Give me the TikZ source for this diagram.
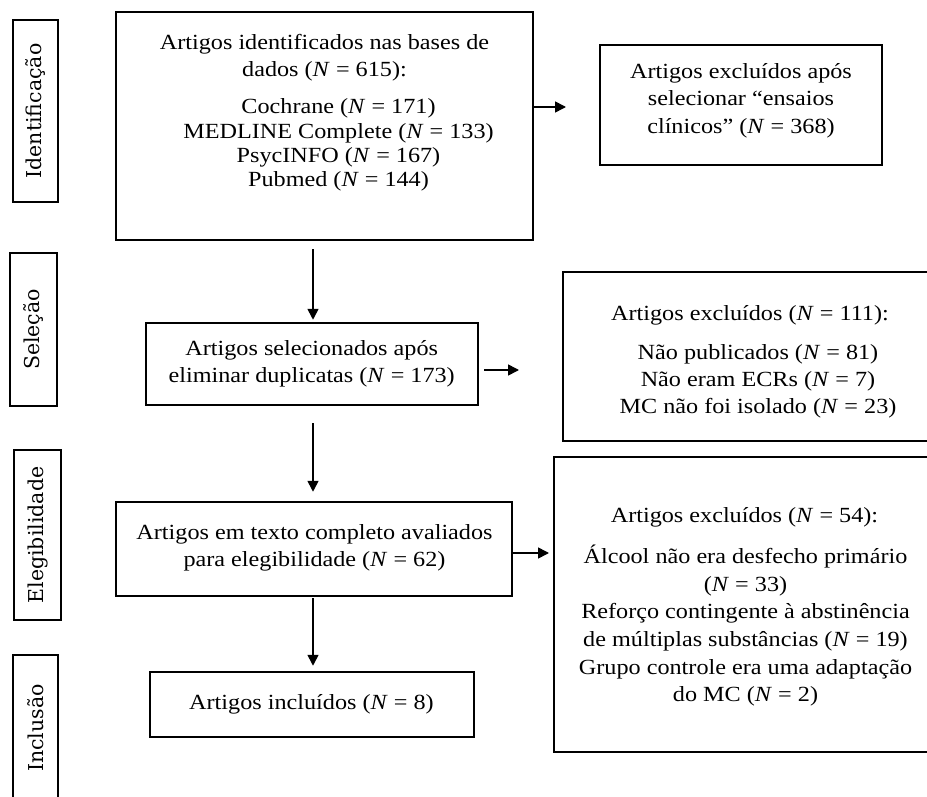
\documentclass[tikz,border=0pt]{standalone}
\usepackage{fontspec}
\setmainfont[FakeStretch=1.12]{Liberation Serif}
\newfontfamily\lblfont{DejaVu Serif}
\usetikzlibrary{arrows.meta}
\newcommand\tlines[2]{\fontsize{21.6}{#1}\selectfont\begin{tabular}[t]{@{}c@{}}#2\end{tabular}}
\newcommand\NN{\textit{N}}
\begin{document}
\begin{tikzpicture}[x=1pt,y=-1pt,
  box/.style={draw, line width=2.5pt, inner sep=0pt},
  lbl/.style={draw, line width=2.5pt, inner sep=0pt, rotate=90, font=\lblfont\fontsize{20.5}{24}\selectfont},
  txt/.style={anchor=base, inner sep=0pt},
  arr/.style={-{Triangle[length=11pt,width=11pt]}, line width=1.6pt}]
\useasboundingbox (0,0) rectangle (927,797);
\clip (0,0) rectangle (927,797);
\fill[white] (0,0) rectangle (927,797);

% stage labels
\node[lbl, minimum width=182pt, minimum height=45pt] (s1) at (35.5,111) {Identificação};
\node[lbl, minimum width=153pt, minimum height=47pt] (s2) at (33.5,329.5) {Seleção};
\node[lbl, minimum width=170pt, minimum height=47pt] (s3) at (37.5,535) {Elegibilidade};
\node[lbl, minimum width=146pt, minimum height=45pt] (s4) at (35.5,728) {Inclusão};

% main boxes
\node[box, minimum width=417pt, minimum height=228pt] (b1) at (324.5,126) {};
\node[box, minimum width=332pt, minimum height=82pt] (b2) at (312,364) {};
\node[box, minimum width=396pt, minimum height=94pt] (b3) at (314,549) {};
\node[box, minimum width=324pt, minimum height=65pt] (b4) at (312,704.5) {};

% exclusion boxes
\node[box, minimum width=282pt, minimum height=120pt] (e1) at (741,105) {};
\node[box, minimum width=382pt, minimum height=169pt] (e2) at (754,356.5) {};
\node[box, minimum width=391pt, minimum height=295pt] (e3) at (749.5,604.5) {};

% texts
\node[txt] (t1a) at (324.5,49.3) {\tlines{27.4}{Artigos identificados nas bases de\\ dados (\NN{} = 615):}};
\node[txt] (t1b) at (338.5,114) {\tlines{24.2}{Cochrane (\NN{} = 171)\\ MEDLINE Complete (\NN{} = 133)\\ PsycINFO (\NN{} = 167)\\ Pubmed (\NN{} = 144)}};
\node[txt] (te1) at (741,78.5) {\tlines{27.5}{Artigos excluídos após\\ selecionar “ensaios\\ clínicos” (\NN{} = 368)}};
\node[txt] (t2) at (311.7,355) {\tlines{27.7}{Artigos selecionados após\\ eliminar duplicatas (\NN{} = 173)}};
\node[txt] (te2a) at (750,320) {\tlines{27}{Artigos excluídos (\NN{} = 111):}};
\node[txt] (te2b) at (758,359.3) {\tlines{27}{Não publicados (\NN{} = 81)\\ Não eram ECRs (\NN{} = 7)\\ MC não foi isolado (\NN{} = 23)}};
\node[txt] (t3) at (314.5,539.3) {\tlines{27.4}{Artigos em texto completo avaliados\\ para elegibilidade (\NN{} = 62)}};
\node[txt] (t4) at (311.5,709.3) {\tlines{27}{Artigos incluídos (\NN{} = 8)}};
\node[txt] (te3a) at (744.5,522.7) {\tlines{27}{Artigos excluídos (\NN{} = 54):}};
\node[txt] (te3b) at (745.5,563.3) {\tlines{27.7}{Álcool não era desfecho primário\\ (\NN{} = 33)\\ Reforço contingente à abstinência\\ de múltiplas substâncias (\NN{} = 19)\\ Grupo controle era uma adaptação\\ do MC (\NN{} = 2)}};

% connectors
\coordinate (a1e) at (566,107);
\draw[arr] (b1.east |- a1e) -- (a1e);
\draw[arr, shorten <=8pt, shorten >=2pt] (b1.south -| 313,0) -- (b2.north -| 313,0);
\coordinate (a3e) at (519,370);
\draw[arr, shorten <=5pt] (b2.east |- a3e) -- (a3e);
\draw[arr, shorten <=17pt, shorten >=9pt] (b2.south -| 313,0) -- (b3.north -| 313,0);
\coordinate (a5e) at (549,553);
\draw[arr] (b3.east |- a5e) -- (a5e);
\draw[arr, shorten <=1pt, shorten >=5pt] (b3.south -| 313,0) -- (b4.north -| 313,0);
\end{tikzpicture}
\end{document}
